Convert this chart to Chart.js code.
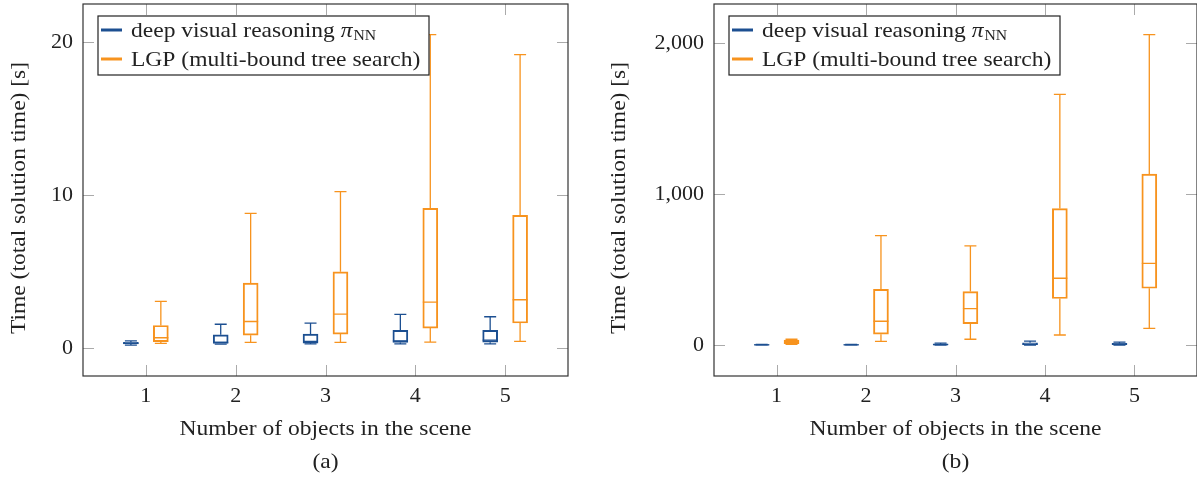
<!DOCTYPE html>
<html>
<head>
<meta charset="utf-8">
<script src="https://cdn.jsdelivr.net/npm/chart.js@4.4.1/dist/chart.umd.min.js"></script>
<style>
  body { margin: 0; background: #fff; width: 1197px; height: 480px; overflow: hidden; position: relative; }
  .panel { position: absolute; top: 0; height: 480px; }
</style>
</head>
<body>
<div class="panel" style="left:0;width:600px"><canvas id="chartA"></canvas></div>
<div class="panel" style="left:600px;width:597px"><canvas id="chartB"></canvas></div>
<script>
// number of objects in the scene (x categories)
const objectCounts = [1, 2, 3, 4, 5];

// box stats per category: [lower whisker, q1, median, q3, upper whisker]
// (a) seconds
const nnBoxesA = [
    [0.22, 0.29, 0.33, 0.40, 0.50],
    [0.28, 0.33, 0.40, 0.89, 1.58],
    [0.30, 0.35, 0.46, 0.94, 1.66],
    [0.30, 0.39, 0.50, 1.18, 2.22],
    [0.30, 0.41, 0.54, 1.18, 2.07]
];
const lgpBoxesA = [
    [0.33, 0.44, 0.70, 1.50, 3.07],
    [0.39, 0.87, 1.76, 4.27, 8.82],
    [0.39, 0.94, 2.24, 5.01, 10.24],
    [0.41, 1.33, 3.03, 9.15, 20.5],
    [0.46, 1.66, 3.18, 8.69, 19.19]
];
// (b)
const nnBoxesB = [
    [1, 2, 3, 4, 6],
    [1, 2, 3, 4, 6],
    [2, 3, 5, 9, 14],
    [2, 4, 8, 16, 27],
    [2, 4, 7, 13, 21]
];
const lgpBoxesB = [
    [6, 11, 24, 34, 40],
    [26, 73, 159, 370, 725],
    [40, 143, 243, 355, 657],
    [68, 309, 443, 904, 1658],
    [112, 377, 542, 1131, 2053]
];

const yTicksA = [0, 10, 20];
const yTicksB = [0, 1000, 2000];
const yRangeA = [-1.8, 22.5];
const yRangeB = [-203, 2256];
const xRange = [0.3, 5.7];

const seriesNames = ['deep visual reasoning ', 'LGP (multi-bound tree search)'];
const xTitle = 'Number of objects in the scene';
const yTitle = 'Time (total solution time) [s]';

const blue = '#1c4f91';
const orange = '#f7931e';
const boxShift = 1 / 6;   // half the gap between the two boxes of a group
const serif = "'Liberation Serif', 'Times New Roman', serif";
const textStretch = 1.12;

Chart.defaults.font.family = serif;
Chart.defaults.color = '#222';

// draws text a bit wider, closer to the Computer Modern look
function wideText(ctx, text, x, y, align, angle) {
    ctx.save();
    ctx.translate(x, y);
    if (angle) ctx.rotate(angle);
    ctx.scale(textStretch, 1);
    ctx.textAlign = align;
    ctx.textBaseline = 'alphabetic';
    ctx.fillText(text, 0, 0);
    ctx.restore();
}

// whiskers and medians on top of the floating bars
const whiskerPlugin = {
    id: 'whiskers',
    afterDatasetsDraw(chart) {
        const ctx = chart.ctx;
        const y = chart.scales.y;
        chart.data.datasets.forEach((ds, i) => {
            const meta = chart.getDatasetMeta(i);
            ctx.save();
            ctx.strokeStyle = ds.borderColor;
            ctx.lineWidth = 1.3;
            meta.data.forEach((bar, j) => {
                const s = ds.boxes[j];
                const half = bar.width / 2;
                const cap = bar.width * 0.4;
                ctx.beginPath();
                // median
                ctx.moveTo(bar.x - half, y.getPixelForValue(s[2]));
                ctx.lineTo(bar.x + half, y.getPixelForValue(s[2]));
                // upper whisker
                ctx.moveTo(bar.x, y.getPixelForValue(s[3]));
                ctx.lineTo(bar.x, y.getPixelForValue(s[4]));
                ctx.moveTo(bar.x - cap, y.getPixelForValue(s[4]));
                ctx.lineTo(bar.x + cap, y.getPixelForValue(s[4]));
                // lower whisker
                ctx.moveTo(bar.x, y.getPixelForValue(s[1]));
                ctx.lineTo(bar.x, y.getPixelForValue(s[0]));
                ctx.moveTo(bar.x - cap, y.getPixelForValue(s[0]));
                ctx.lineTo(bar.x + cap, y.getPixelForValue(s[0]));
                ctx.stroke();
            });
            ctx.restore();
        });
    }
};

// frame, inner ticks, titles, legend
const decorPlugin = {
    id: 'decor',
    afterDraw(chart) {
        const ctx = chart.ctx;
        const a = chart.chartArea;
        const xs = chart.scales.x;
        const ys = chart.scales.y;
        const tl = 11;
        ctx.save();
        ctx.strokeStyle = '#aaa';
        ctx.lineWidth = 1;
        ctx.beginPath();
        xs.ticks.forEach(t => {
            const px = Math.round(xs.getPixelForValue(t.value)) + 0.5;
            ctx.moveTo(px, a.top); ctx.lineTo(px, a.top + tl);
            ctx.moveTo(px, a.bottom); ctx.lineTo(px, a.bottom - tl);
        });
        ys.ticks.forEach(t => {
            const py = Math.round(ys.getPixelForValue(t.value)) + 0.5;
            ctx.moveTo(a.left, py); ctx.lineTo(a.left + tl, py);
            ctx.moveTo(a.right, py); ctx.lineTo(a.right - tl, py);
        });
        ctx.stroke();

        ctx.strokeStyle = '#333';
        ctx.lineWidth = 1.2;
        ctx.strokeRect(a.left, a.top, a.right - a.left, a.bottom - a.top);

        // axis titles and caption
        const cx = (a.left + a.right) / 2;
        ctx.fillStyle = '#222';
        ctx.font = '21px ' + serif;
        wideText(ctx, xTitle, cx, 435, 'center');
        wideText(ctx, chart.options.caption, cx, 468, 'center');
        wideText(ctx, yTitle, 25, (a.top + a.bottom) / 2 + 8, 'center', -Math.PI / 2);

        // legend
        const lx = a.left + 15, ly = a.top + 12;
        ctx.fillStyle = '#fff';
        ctx.fillRect(lx, ly, 331, 59);
        ctx.strokeStyle = '#222';
        ctx.lineWidth = 1.2;
        ctx.strokeRect(lx, ly, 331, 59);
        const rows = [ly + 21, ly + 50];
        chart.data.datasets.forEach((ds, i) => {
            ctx.strokeStyle = ds.borderColor;
            ctx.lineWidth = 3;
            ctx.beginPath();
            ctx.moveTo(lx + 3, rows[i] - 7);
            ctx.lineTo(lx + 24, rows[i] - 7);
            ctx.stroke();
            ctx.fillStyle = '#222';
            ctx.font = '21px ' + serif;
            wideText(ctx, seriesNames[i], lx + 33, rows[i], 'left');
        });
        // pi_NN after the first label
        let px = lx + 33 + ctx.measureText(seriesNames[0]).width * textStretch;
        ctx.font = 'italic 21px ' + serif;
        wideText(ctx, 'π', px, rows[0], 'left');
        px += ctx.measureText('π').width * textStretch + 1;
        ctx.font = '14px ' + serif;
        wideText(ctx, 'NN', px, rows[0] + 3, 'left');
        ctx.restore();
    }
};

function boxDataset(boxes, shift, color) {
    return {
        type: 'bar',
        boxes: boxes,
        data: objectCounts.map((c, i) => ({ x: c + shift, y: [boxes[i][1], boxes[i][3]] })),
        backgroundColor: 'rgba(0,0,0,0)',
        borderColor: color,
        borderWidth: 1.3,
        borderSkipped: false,
        barThickness: 15,
        grouped: false
    };
}

function makeChart(id, nnBoxes, lgpBoxes, yRange, yTicks, caption, yAxisWidth, padRight) {
    return new Chart(document.getElementById(id), {
        type: 'bar',
        data: {
            datasets: [
                boxDataset(nnBoxes, -boxShift, blue),
                boxDataset(lgpBoxes, boxShift, orange)
            ]
        },
        options: {
            caption: caption,
            responsive: true,
            maintainAspectRatio: false,
            animation: false,
            layout: { padding: { top: 4, right: padRight, left: 0, bottom: 0 } },
            plugins: { legend: { display: false }, tooltip: { enabled: false } },
            scales: {
                x: {
                    type: 'linear',
                    min: xRange[0],
                    max: xRange[1],
                    offset: false,
                    grid: { display: false, drawTicks: false },
                    border: { display: false },
                    afterBuildTicks: s => { s.ticks = objectCounts.map(v => ({ value: v })); },
                    afterFit: s => { s.height = 104; s.paddingLeft = 0; s.paddingRight = 0; },
                    ticks: { font: { size: 22 }, color: '#222', padding: 7, maxRotation: 0 }
                },
                y: {
                    min: yRange[0],
                    max: yRange[1],
                    grid: { display: false, drawTicks: false },
                    border: { display: false },
                    afterBuildTicks: s => { s.ticks = yTicks.map(v => ({ value: v })); },
                    afterFit: s => { s.width = yAxisWidth; s.paddingTop = 0; s.paddingBottom = 0; },
                    ticks: {
                        font: { size: 22 },
                        color: '#222',
                        padding: 10,
                        callback: v => v.toLocaleString('en-US')
                    }
                }
            }
        },
        plugins: [whiskerPlugin, decorPlugin]
    });
}

makeChart('chartA', nnBoxesA, lgpBoxesA, yRangeA, yTicksA, '(a)', 83, 32);
makeChart('chartB', nnBoxesB, lgpBoxesB, yRangeB, yTicksB, '(b)', 114, 0);
</script>
</body>
</html>
